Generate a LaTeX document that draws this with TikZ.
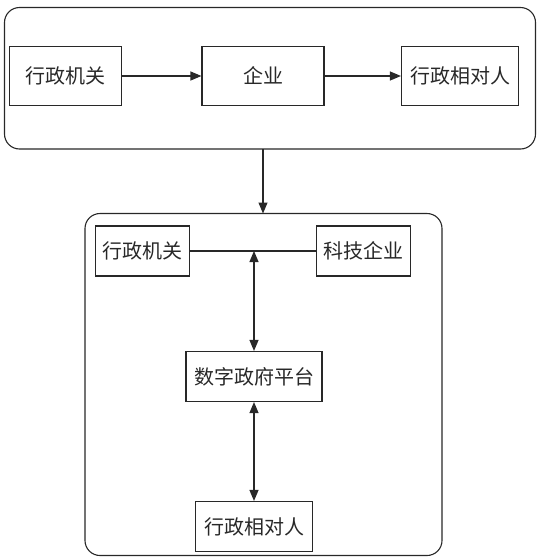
\documentclass[tikz,border=0pt]{standalone}
\usepackage{fontspec}
\setmainfont{Noto Sans CJK SC}
\usetikzlibrary{arrows.meta}
\begin{document}
\begin{tikzpicture}[x=1pt,y=-1pt,
  line width=1.1pt, draw={rgb,255:red,40;green,40;blue,40},
  box/.style={draw, rectangle, inner sep=0pt, font=\fontsize{20}{23}\selectfont, text={rgb,255:red,40;green,40;blue,40}},
  group/.style={draw, rounded corners=15pt},
  arr/.style={-{Triangle[length=11pt,width=9pt]}},
  dbl/.style={{Triangle[length=11pt,width=9pt]}-{Triangle[length=11pt,width=9pt]}}]
\useasboundingbox (0,0) rectangle (539,560);
% top group
\draw[group] (4.5,7.5) rectangle (535.5,149);
\node[box, minimum width=112pt, minimum height=59pt] (a1) at (65.5,76) {行政机关};
\node[box, minimum width=122pt, minimum height=59pt] (a2) at (263,76) {企业};
\node[box, minimum width=117pt, minimum height=59pt] (a3) at (460,76) {行政相对人};
\draw[arr] (a1) -- (a2);
\draw[arr] (a2) -- (a3);
% bottom group
\draw[group] (85,213.5) rectangle (442,555.5);
\coordinate (top) at (263,149);
\coordinate (bot) at (263,213.5);
\draw[arr] (top) -- (bot);
\node[box, minimum width=94pt, minimum height=50pt] (b1) at (142.5,251) {行政机关};
\node[box, minimum width=94pt, minimum height=50pt] (b2) at (363.5,251) {科技企业};
\node[box, minimum width=136pt, minimum height=50pt] (b3) at (254,376.5) {数字政府平台};
\node[box, minimum width=117pt, minimum height=50pt] (b4) at (254,526.5) {行政相对人};
\draw (b1.east) -- (b2.west);
\coordinate (mid) at (254,251);
\draw[dbl] (mid) -- (b3.north);
\draw[dbl] (b3.south) -- (b4.north);
\end{tikzpicture}
\end{document}
